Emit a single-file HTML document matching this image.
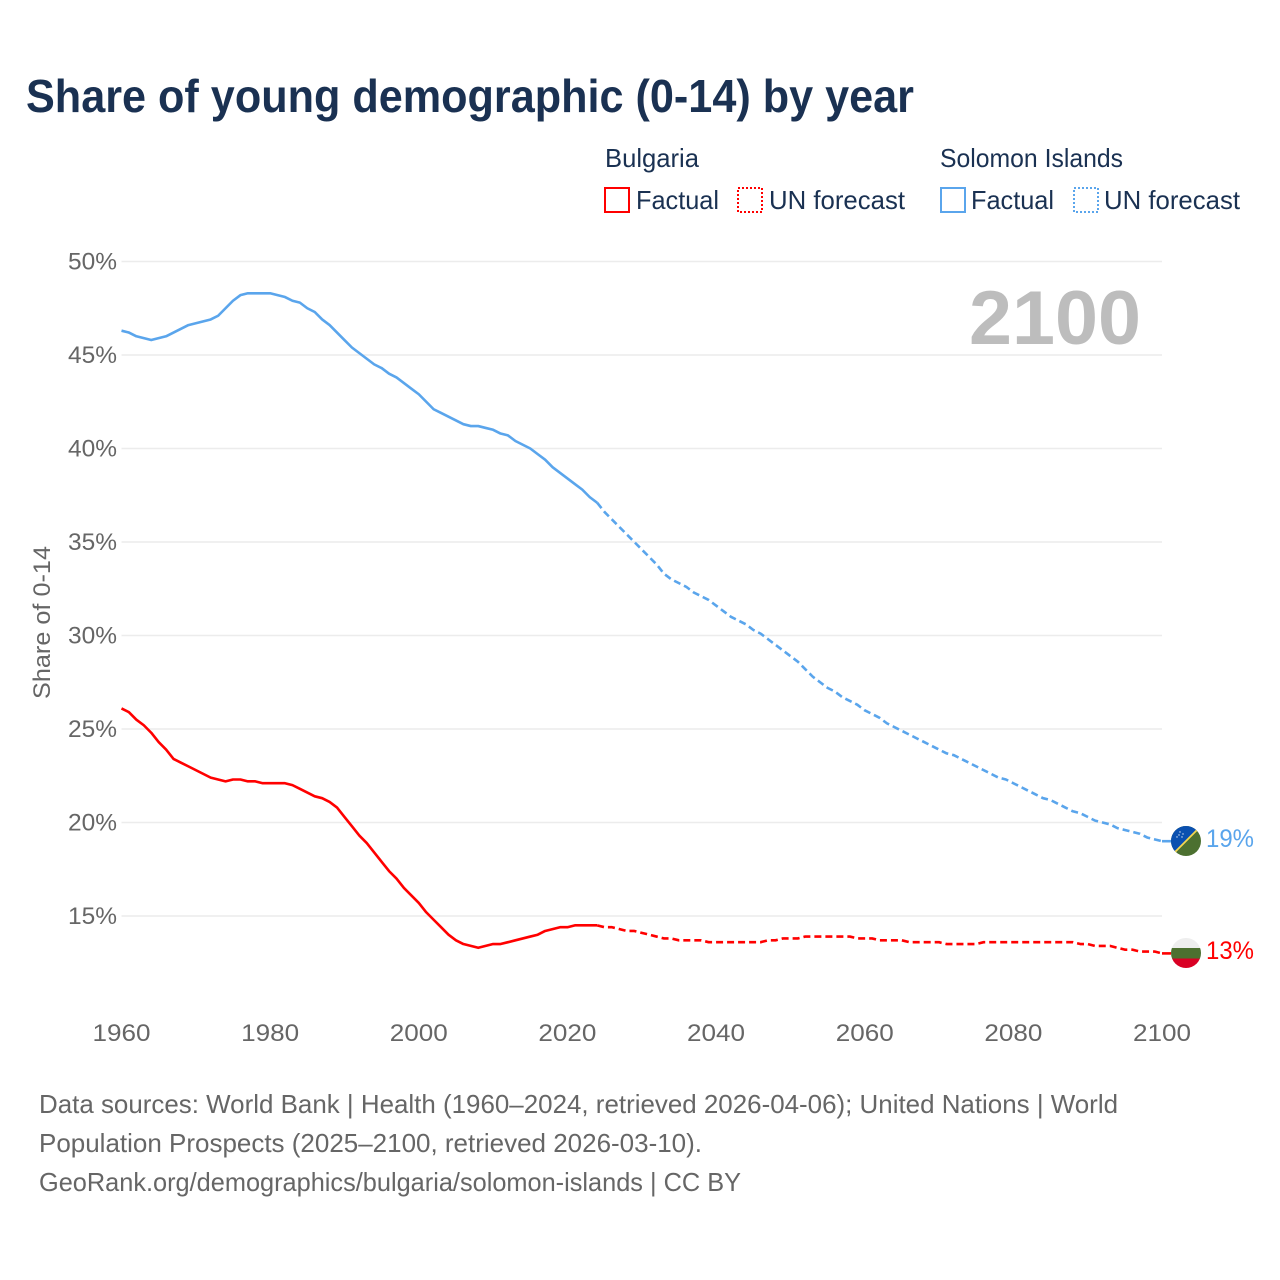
<!DOCTYPE html>
<html lang="en">
<head>
<meta charset="utf-8">
<title>Share of young demographic (0-14) by year</title>
<style>
html,body{margin:0;padding:0;background:#fff;width:1280px;height:1280px;overflow:hidden}
svg{display:block;font-family:"Liberation Sans",sans-serif}
</style>
</head>
<body>
<svg id="chart" xmlns="http://www.w3.org/2000/svg" width="1280" height="1280" viewBox="0 0 1280 1280">
  <defs>
    <clipPath id="flag-clip-sb"><circle cx="1186" cy="841" r="15"/></clipPath>
    <clipPath id="flag-clip-bg"><circle cx="1186" cy="953" r="15"/></clipPath>
  </defs>
  <rect x="0" y="0" width="1280" height="1280" fill="#fff"/>
  <text x="26" y="112" font-size="46" font-weight="700" fill="#1a3152" textLength="888" lengthAdjust="spacingAndGlyphs">Share of young demographic (0-14) by year</text>

  <g font-size="26" fill="#1a3152">
    <text x="605" y="167" textLength="94" lengthAdjust="spacingAndGlyphs">Bulgaria</text>
    <text x="940" y="167" textLength="183" lengthAdjust="spacingAndGlyphs">Solomon Islands</text>
    <g>
      <rect x="605" y="188" width="24" height="24" fill="none" stroke="#ff0000" stroke-width="2"/>
      <text x="636" y="209" textLength="83" lengthAdjust="spacingAndGlyphs">Factual</text>
    </g>
    <g>
      <rect x="738" y="188" width="24" height="24" fill="none" stroke="#ff0000" stroke-width="2" stroke-dasharray="2 2"/>
      <text x="769" y="209" textLength="136" lengthAdjust="spacingAndGlyphs">UN forecast</text>
    </g>
    <g>
      <rect x="941" y="188" width="24" height="24" fill="none" stroke="#5aa5ec" stroke-width="2"/>
      <text x="971" y="209" textLength="83" lengthAdjust="spacingAndGlyphs">Factual</text>
    </g>
    <g>
      <rect x="1074" y="188" width="24" height="24" fill="none" stroke="#5aa5ec" stroke-width="2" stroke-dasharray="2 2"/>
      <text x="1104" y="209" textLength="136" lengthAdjust="spacingAndGlyphs">UN forecast</text>
    </g>
  </g>

  <g id="grid"></g>
  <g id="yticks"></g>
  <g id="xticks"></g>
  <text transform="translate(50,699) rotate(-90)" font-size="24" fill="#666" textLength="153" lengthAdjust="spacingAndGlyphs">Share of 0-14</text>
  <text x="1141" y="344" text-anchor="end" font-size="76" font-weight="700" fill="#bdbdbd" textLength="172" lengthAdjust="spacingAndGlyphs">2100</text>
  <g id="series"></g>

  <g clip-path="url(#flag-clip-sb)">
    <rect x="1171" y="826" width="30" height="30" fill="#4c7030"/>
    <polygon points="1171,856 1171,826 1201,826" fill="#0a50b0"/>
    <line x1="1173" y1="854" x2="1199" y2="828" stroke="#f5d750" stroke-width="1.8"/>
    <g fill="#d8e4f4">
      <circle cx="1180" cy="832" r="0.7"/>
      <circle cx="1183" cy="834" r="0.7"/>
      <circle cx="1179" cy="835" r="0.7"/>
      <circle cx="1177" cy="837" r="0.7"/>
      <circle cx="1182" cy="837" r="0.7"/>
    </g>
  </g>
  <g clip-path="url(#flag-clip-bg)">
    <rect x="1171" y="938" width="30" height="10" fill="#eeeeee"/>
    <rect x="1171" y="948" width="30" height="10.5" fill="#4c7030"/>
    <rect x="1171" y="958.5" width="30" height="10" fill="#d90024"/>
  </g>
  <text x="1206" y="847" font-size="25" fill="#5aa5ec" textLength="48" lengthAdjust="spacingAndGlyphs">19%</text>
  <text x="1206" y="959" font-size="25" fill="#ff0000" textLength="48" lengthAdjust="spacingAndGlyphs">13%</text>

  <g font-size="26" fill="#666">
    <text x="39" y="1113" textLength="1079" lengthAdjust="spacingAndGlyphs">Data sources: World Bank | Health (1960–2024, retrieved 2026-04-06); United Nations | World</text>
    <text x="39" y="1152" textLength="663" lengthAdjust="spacingAndGlyphs">Population Prospects (2025–2100, retrieved 2026-03-10).</text>
    <text x="39" y="1191" textLength="702" lengthAdjust="spacingAndGlyphs">GeoRank.org/demographics/bulgaria/solomon-islands | CC BY</text>
  </g>
</svg>
<script>
var yTickValues = [15, 20, 25, 30, 35, 40, 45, 50];
var xTickValues = [1960, 1980, 2000, 2020, 2040, 2060, 2080, 2100];
var factualStartYear = 1960;
var forecastStartYear = 2024;
var bulgariaFactual = [26.1,25.9,25.5,25.2,24.8,24.3,23.9,23.4,23.2,23.0,22.8,22.6,22.4,22.3,22.2,22.3,22.3,22.2,22.2,22.1,22.1,22.1,22.1,22.0,21.8,21.6,21.4,21.3,21.1,20.8,20.3,19.8,19.3,18.9,18.4,17.9,17.4,17.0,16.5,16.1,15.7,15.2,14.8,14.4,14.0,13.7,13.5,13.4,13.3,13.4,13.5,13.5,13.6,13.7,13.8,13.9,14.0,14.2,14.3,14.4,14.4,14.5,14.5,14.5,14.5];
var bulgariaForecast = [14.5,14.4,14.4,14.3,14.2,14.2,14.1,14.0,13.9,13.8,13.8,13.7,13.7,13.7,13.7,13.6,13.6,13.6,13.6,13.6,13.6,13.6,13.6,13.7,13.7,13.8,13.8,13.8,13.9,13.9,13.9,13.9,13.9,13.9,13.9,13.8,13.8,13.8,13.7,13.7,13.7,13.7,13.6,13.6,13.6,13.6,13.6,13.5,13.5,13.5,13.5,13.5,13.6,13.6,13.6,13.6,13.6,13.6,13.6,13.6,13.6,13.6,13.6,13.6,13.6,13.5,13.5,13.4,13.4,13.4,13.3,13.2,13.2,13.1,13.1,13.1,13.0];
var solomonFactual = [46.3,46.2,46.0,45.9,45.8,45.9,46.0,46.2,46.4,46.6,46.7,46.8,46.9,47.1,47.5,47.9,48.2,48.3,48.3,48.3,48.3,48.2,48.1,47.9,47.8,47.5,47.3,46.9,46.6,46.2,45.8,45.4,45.1,44.8,44.5,44.3,44.0,43.8,43.5,43.2,42.9,42.5,42.1,41.9,41.7,41.5,41.3,41.2,41.2,41.1,41.0,40.8,40.7,40.4,40.2,40.0,39.7,39.4,39.0,38.7,38.4,38.1,37.8,37.4,37.1];
var solomonForecast = [37.1,36.6,36.2,35.8,35.4,35.0,34.6,34.2,33.8,33.3,33.0,32.8,32.6,32.3,32.1,31.9,31.6,31.3,31.0,30.8,30.6,30.3,30.1,29.8,29.5,29.2,28.9,28.6,28.2,27.8,27.5,27.2,27.0,26.7,26.5,26.3,26.0,25.8,25.6,25.3,25.1,24.9,24.7,24.5,24.3,24.1,23.9,23.7,23.6,23.4,23.2,23.0,22.8,22.6,22.4,22.3,22.1,21.9,21.7,21.5,21.3,21.2,21.0,20.8,20.6,20.5,20.3,20.1,20.0,19.9,19.7,19.6,19.5,19.4,19.2,19.1,19.0];

var NS = 'http://www.w3.org/2000/svg';
function xScale(year) { return 121.5 + (year - 1960) * (1162 - 121.5) / 140; }
function yScale(v) { return 916 - (v - 15) * (916 - 261.5) / 35; }
function make(tag, attrs, parent) {
  var el = document.createElementNS(NS, tag);
  for (var k in attrs) el.setAttribute(k, attrs[k]);
  parent.appendChild(el);
  return el;
}
var grid = document.getElementById('grid');
var yticks = document.getElementById('yticks');
var xticks = document.getElementById('xticks');
var series = document.getElementById('series');

yTickValues.forEach(function (v) {
  var line = make('line', {x1: 121.5, x2: 1162, y1: yScale(v), y2: yScale(v), stroke: '#ececec', 'stroke-width': 1.5}, grid);
  
  
  var t = make('text', {x: 117, y: yScale(v) + 8, 'text-anchor': 'end', 'font-size': 24, fill: '#666', textLength: 49, lengthAdjust: 'spacingAndGlyphs'}, yticks);
  
  
  t.textContent = v + '%';
});
xTickValues.forEach(function (y) {
  var t = make('text', {x: xScale(y), y: 1041, 'text-anchor': 'middle', 'font-size': 24, fill: '#666', textLength: 58, lengthAdjust: 'spacingAndGlyphs'}, xticks);
  
  
  t.textContent = y;
});
function pathFrom(values, startYear) {
  return values.map(function (v, i) {
    return (i ? 'L' : 'M') + xScale(startYear + i).toFixed(2) + ' ' + yScale(v).toFixed(2);
  }).join(' ');
}
function drawSeries(values, startYear, color, dashed) {
  var attrs = {d: pathFrom(values, startYear), fill: 'none', stroke: color, 'stroke-width': 2.6, 'stroke-linejoin': 'round'};
  if (dashed) attrs['stroke-dasharray'] = '7 4';
  return make('path', attrs, series);
}
function drawLeader(values, color) {
  var last = values[values.length - 1];
  return make('line', {x1: xScale(2100), x2: xScale(2100) + 9, y1: yScale(last), y2: yScale(last), stroke: color, 'stroke-width': 2.6}, series);
}
var p;
p = drawSeries(solomonFactual, factualStartYear, '#5aa5ec', false);


p = drawSeries(solomonForecast, forecastStartYear, '#5aa5ec', true);


p = drawLeader(solomonForecast, '#5aa5ec');


p = drawSeries(bulgariaFactual, factualStartYear, '#ff0000', false);


p = drawSeries(bulgariaForecast, forecastStartYear, '#ff0000', true);


p = drawLeader(bulgariaForecast, '#ff0000');


</script>
</body>
</html>
